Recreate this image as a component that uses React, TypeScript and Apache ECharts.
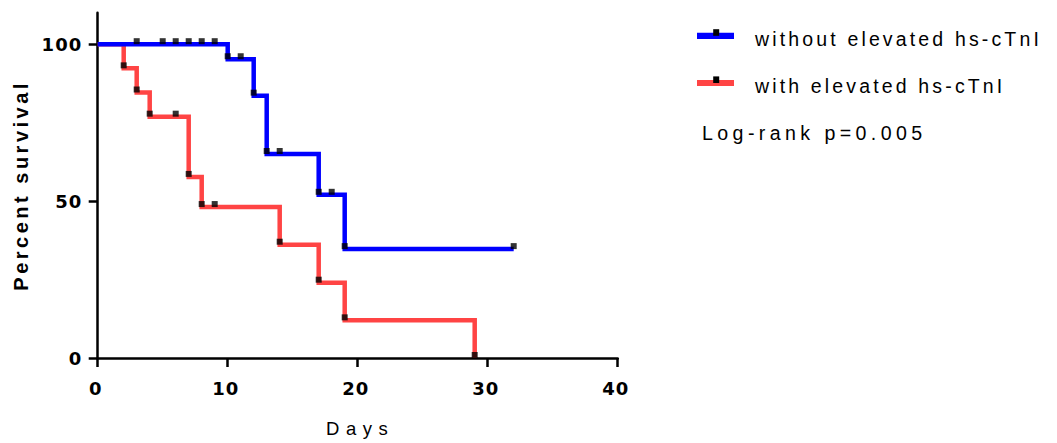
import React, { useEffect, useRef } from 'react';
import * as echarts from 'echarts';

// ---- data ----
const seriesNames = ['without elevated hs-cTnI', 'with elevated hs-cTnI'];
const seriesColors = ['#0000ff', '#ff4444'];

const withoutDays = [0, 10, 12, 13, 17, 19, 32];
const withoutSurv = [100, 95.2, 83.6, 65.0, 52.0, 34.7, 34.7];
const withoutCensDays = [3, 5, 6, 7, 8, 9, 10, 11, 12, 13, 14, 17, 18, 19, 32];
const withoutCensSurv = [100, 100, 100, 100, 100, 100, 95.2, 95.2, 83.6, 65.0, 65.0, 52.0, 52.0, 34.7, 34.7];

const withDays = [0, 2, 3, 4, 7, 8, 14, 17, 19, 29];
const withSurv = [100, 92.3, 84.6, 76.9, 57.7, 48.1, 36.1, 24.0, 12.0, 0];
const withCensDays = [2, 3, 4, 6, 7, 8, 9, 14, 17, 19, 29];
const withCensSurv = [92.3, 84.6, 76.9, 76.9, 57.7, 48.1, 48.1, 36.1, 24.0, 12.0, 0];

const yTickValues = [0, 50, 100];
const annotation = 'Log-rank p=0.005';

const FONT = '"Liberation Sans", Arial, Helvetica, sans-serif';
const TICK_FONT = '"DejaVu Sans", Verdana, sans-serif';

const zip = (xs: number[], ys: number[]) => xs.map((x, i) => [x, ys[i]]);

export default function App() {
  const ref = useRef<HTMLDivElement>(null);
  useEffect(() => {
    if (!ref.current) return;
    const chart = echarts.init(ref.current, null, { renderer: 'svg' });
    const legendY = [35.8, 83];
    const option: any = {
      animation: false,
      backgroundColor: '#ffffff',
      grid: { left: 97.7, right: 439.3, top: 12.8, bottom: 83.3, containLabel: false },
      xAxis: {
        type: 'value',
        min: 0,
        max: 40,
        interval: 10,
        splitLine: { show: false },
        axisLine: { show: true, lineStyle: { color: '#000', width: 2.5 } },
        axisTick: { show: true, length: 9, lineStyle: { color: '#000', width: 2.5 } },
        axisLabel: { color: '#000', fontSize: 18, fontWeight: 'bold', fontFamily: TICK_FONT, margin: 21, padding: [0, 4, 0, 0] },
        name: 'Days',
        nameLocation: 'middle',
        nameGap: 61,
        nameTextStyle: { color: '#000', fontSize: 18.5, fontFamily: FONT, padding: [0, 0, 0, 5] },
      },
      yAxis: {
        type: 'value',
        min: 0,
        max: 110,
        interval: 50,
        splitLine: { show: false },
        axisLine: { show: true, lineStyle: { color: '#000', width: 2.5 } },
        axisTick: { show: true, length: 9, lineStyle: { color: '#000', width: 2.5 }, customValues: yTickValues },
        axisLabel: { color: '#000', fontSize: 18, fontWeight: 'bold', fontFamily: TICK_FONT, margin: 15.5, padding: [4, 0, 0, 0], customValues: yTickValues },
        name: 'Percent survival',
        nameLocation: 'middle',
        nameGap: 67,
        nameTextStyle: { color: '#000', fontSize: 20, fontWeight: 'bold', fontFamily: FONT },
      },
      series: [
        {
          name: seriesNames[1],
          type: 'line',
          step: 'end',
          data: zip(withDays, withSurv),
          symbol: 'none',
          lineStyle: { color: seriesColors[1], width: 4.5, cap: 'butt', join: 'miter' },
          z: 2,
          clip: false,
        },
        {
          name: seriesNames[0],
          type: 'line',
          step: 'end',
          data: zip(withoutDays, withoutSurv),
          symbol: 'none',
          lineStyle: { color: seriesColors[0], width: 4.5, cap: 'butt', join: 'miter' },
          z: 3,
          clip: false,
        },
        {
          name: seriesNames[1] + ' censored',
          type: 'scatter',
          data: zip(withCensDays, withCensSurv),
          symbol: 'rect',
          symbolSize: 6,
          symbolOffset: [0, -3],
          itemStyle: { color: '#000' },
          z: 4,
          clip: false,
        },
        {
          name: seriesNames[0] + ' censored',
          type: 'scatter',
          data: zip(withoutCensDays, withoutCensSurv),
          symbol: 'rect',
          symbolSize: 6,
          symbolOffset: [0, -3],
          itemStyle: { color: '#000' },
          z: 4,
          clip: false,
        },
      ],
      graphic: [
        ...seriesNames.flatMap((n, i) => [
          { type: 'rect', shape: { x: 697, y: legendY[i] - 3.1, width: 37, height: 6.2 }, style: { fill: seriesColors[i] } },
          { type: 'rect', shape: { x: 713.2, y: legendY[i] - 6.6, width: 6, height: 6.6 }, style: { fill: '#000' } },
          {
            type: 'text',
            x: 755,
            y: legendY[i] + 3.4,
            style: { text: n, fill: '#000', fontSize: 19.5, fontFamily: FONT, textAlign: 'left', textVerticalAlign: 'middle', align: 'left', verticalAlign: 'middle' },
          },
        ]),
        {
          type: 'text',
          x: 702,
          y: 133.2,
          style: { text: annotation, fill: '#000', fontSize: 19.6, fontFamily: FONT, textAlign: 'left', textVerticalAlign: 'middle', align: 'left', verticalAlign: 'middle' },
        },
      ],
    };
    chart.setOption(option);
    return () => chart.dispose();
  }, []);
  return (
    <>
      <style>{`
        #km-chart text[style*="18px"] { letter-spacing: 1px; }
        #km-chart text[style*="18.5px"] { letter-spacing: 6.5px; }
        #km-chart text[style*="20px"] { letter-spacing: 3.5px; }
        #km-chart text[style*="19.5px"] { letter-spacing: 3.15px; }
        #km-chart text[style*="19.6px"] { letter-spacing: 4.4px; }
      `}</style>
      <div id="km-chart" ref={ref} style={{ position: 'absolute', left: 0, top: 0, width: 1057, height: 443 }} />
    </>
  );
}
